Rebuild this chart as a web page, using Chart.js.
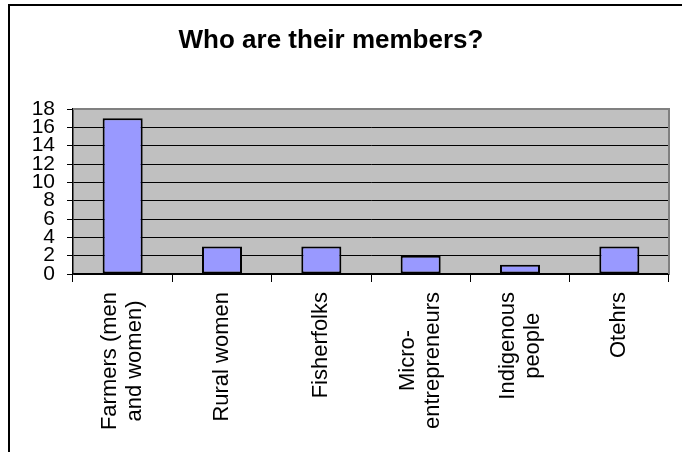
<!DOCTYPE html>
<html>
<head>
<meta charset="utf-8">
<script src="https://cdn.jsdelivr.net/npm/chart.js@4"></script>
<style>
  html, body { margin: 0; padding: 0; background: #fff; }
  #wrap { position: relative; width: 682px; height: 452px; overflow: hidden; }
  #grafico { position: absolute; left: 0; top: 0; }
  #marco { position: absolute; left: 8px; top: 4px; width: 720px; height: 520px;
           border-left: 2px solid #000; border-top: 2px solid #000; }
</style>
</head>
<body>
<div id="wrap">
  <canvas id="grafico" width="682" height="452"></canvas>
  <div id="marco"></div>
</div>
<script>
var titulo = "Who are their members?";
var categorias = [
    ["Farmers (men", "and women)"],
    ["Rural women"],
    ["Fisherfolks"],
    ["Micro-", "entrepreneurs"],
    ["Indigenous", "people"],
    ["Otehrs"]
];
var miembros = [17, 3, 3, 2, 1, 3];
var ejeMin = 0;
var ejeMax = 18;
var ejePaso = 2;

Chart.defaults.font.family = "'Liberation Sans', Arial, sans-serif";
Chart.defaults.color = '#000';

// fondo gris del area de trazado
var fondoArea = {
    id: 'fondoArea',
    beforeDraw: function(chart) {
        var a = chart.chartArea, ctx = chart.ctx;
        ctx.save();
        ctx.fillStyle = '#c0c0c0';
        ctx.fillRect(a.left, a.top, a.right - a.left, a.bottom - a.top);
        ctx.restore();
    },
    afterDraw: function(chart) {
        // borde superior y derecho en gris
        var a = chart.chartArea, ctx = chart.ctx;
        ctx.save();
        ctx.strokeStyle = '#808080';
        ctx.lineWidth = 2;
        ctx.beginPath();
        ctx.moveTo(a.left, a.top);
        ctx.lineTo(a.right, a.top);
        ctx.lineTo(a.right, a.bottom);
        ctx.stroke();
        ctx.restore();
    }
};

// titulo y etiquetas verticales de categorias (centradas linea por linea)
var textos = {
    id: 'textos',
    afterDraw: function(chart) {
        var ctx = chart.ctx, xs = chart.scales.x;
        ctx.save();
        ctx.fillStyle = '#000';
        ctx.font = "bold 26px 'Liberation Sans', Arial, sans-serif";
        ctx.textAlign = 'center';
        ctx.textBaseline = 'alphabetic';
        ctx.fillText(titulo, 331, 48);

        ctx.font = "22px 'Liberation Sans', Arial, sans-serif";
        ctx.textBaseline = 'middle';
        var arriba = xs.top + 18, alto = 25;
        categorias.forEach(function(lineas, i) {
            var cx = xs.getPixelForValue(i);
            var maxW = 0;
            lineas.forEach(function(t) { maxW = Math.max(maxW, ctx.measureText(t).width); });
            ctx.save();
            ctx.translate(cx, arriba + maxW / 2);
            ctx.rotate(-Math.PI / 2);
            lineas.forEach(function(t, j) {
                ctx.fillText(t, 0, (j - (lineas.length - 1) / 2) * alto);
            });
            ctx.restore();
        });
        ctx.restore();
    }
};

new Chart(document.getElementById('grafico'), {
    type: 'bar',
    data: {
        labels: categorias,
        datasets: [{
            data: miembros,
            backgroundColor: '#9999ff',
            borderColor: '#000',
            borderWidth: 2,
            borderSkipped: false,
            barPercentage: 0.403,
            categoryPercentage: 1
        }]
    },
    options: {
        responsive: false,
        animation: false,
        layout: { padding: { left: 0, right: 13, top: 109, bottom: 0 } },
        plugins: {
            legend: { display: false },
            title: { display: false },
            tooltip: { enabled: false }
        },
        scales: {
            x: {
                grid: { offset: true, drawOnChartArea: false, color: '#000', tickLength: 8 },
                border: { color: '#000', width: 1.5 },
                ticks: { display: false },
                afterFit: function(s) { s.height = 452 - 274; }
            },
            y: {
                min: ejeMin,
                max: ejeMax,
                ticks: { stepSize: ejePaso, autoSkip: false, font: { size: 21 }, padding: 12 },
                grid: {
                    color: function(c) { return c.tick && c.tick.value === ejeMax ? '#808080' : '#000'; },
                    tickColor: '#000',
                    tickLength: 6
                },
                border: { color: '#000', width: 1.5 },
                afterFit: function(s) { s.width = 73; }
            }
        }
    },
    plugins: [fondoArea, textos]
});
</script>
</body>
</html>
